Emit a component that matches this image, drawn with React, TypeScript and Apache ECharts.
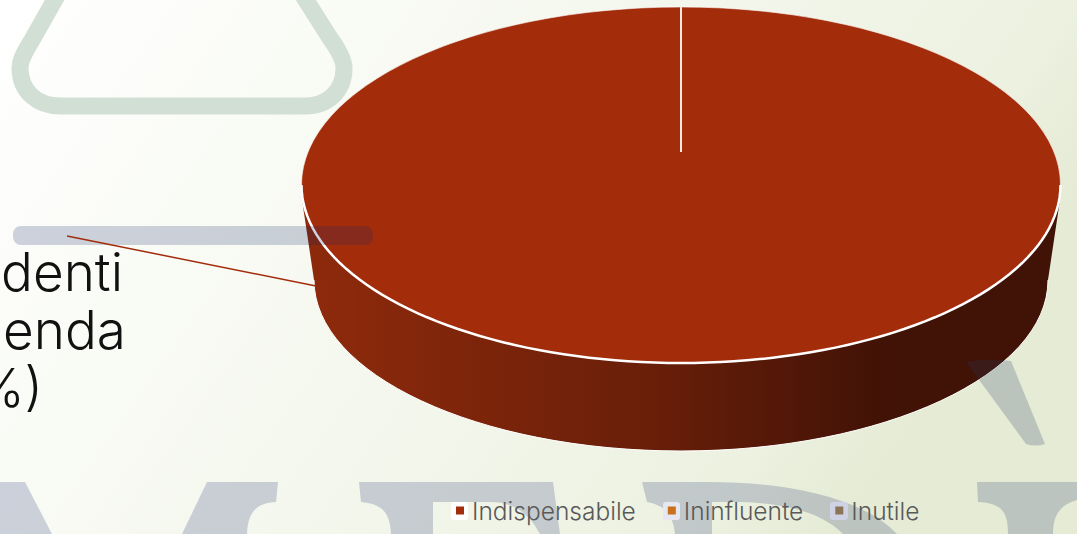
import React, { useEffect, useRef } from "react";
import * as echarts from "echarts";

const categories = ["Indispensabile", "Ininfluente", "Inutile"];
const shares = [100, 0, 0];
const colors = ["#A32C0B", "#C8701A", "#8B7355"];
const clippedTitle = ["udenti", "enda", "%)"];

const trianglePath = "M 58 -6 L 32 40 C 22 56 20 62 20 68 C 20 92 38 106 60 106 L 305 106 C 327 106 344 92 344 68 C 344 62 340 52 330 38 L 302 -6";
const lettersPath =
  "M 0 482 L 25 482 L 52 534 L 0 534 Z " +
  "M 207 482 L 278 482 L 276 502 C 258 503 248 510 247 534 L 182 534 Z " +
  "M 359 482 L 553 482 L 560 534 L 540 534 C 530 515 515 502 490 502 L 433 502 L 433 534 L 391 534 C 390 512 382 504 361 502 Z " +
  "M 642 482 L 710 482 C 780 482 860 495 897 534 L 843 534 C 825 515 790 503 740 502 L 712 502 L 712 534 L 675 534 C 673 515 665 505 647 502 Z " +
  "M 977 482 L 1077 482 L 1077 500 C 1060 505 1053 515 1053 534 L 1008 534 C 1008 512 1002 503 978 502 Z";
const legPath = "M 966 362 Q 985 358 1011 361 L 1045 444 Q 1035 447 1026 444 Z";

echarts.graphic.registerShape("triangleMark", echarts.graphic.extendPath(trianglePath, {}) as any);
echarts.graphic.registerShape("letters", echarts.graphic.extendPath(lettersPath, {}) as any);
echarts.graphic.registerShape("legMark", echarts.graphic.extendPath(legPath, {}) as any);

const cx = 681, top = 185, rx = 379.5, ry = 178;
const bottomCy = 280, bottomRx = 367, bottomRy = 171;
const hubY = 152;

const sideStops = [
  { offset: 0, color: "#8E2A0C" },
  { offset: 0.45, color: "#6A1F09" },
  { offset: 0.78, color: "#411206" },
  { offset: 1, color: "#411206" },
];

const frontRim = () => {
  const pts: number[][] = [];
  for (let k = 0; k <= 180; k += 2) {
    const a = (k * Math.PI) / 180;
    pts.push([cx + rx * Math.cos(a), top + ry * Math.sin(a)]);
  }
  return pts;
};

const App = () => {
  const ref = useRef<HTMLDivElement>(null);
  useEffect(() => {
    const chart = echarts.init(ref.current!, null, { renderer: "svg" });
    const total = shares.reduce((a, b) => a + b, 0);
    chart.setOption({
      animation: false,
      backgroundColor: new echarts.graphic.LinearGradient(0, 0, 1, 0.35, [
        { offset: 0, color: "#FFFFFF" },
        { offset: 0.3, color: "#F9FBF5" },
        { offset: 0.6, color: "#F3F6EB" },
        { offset: 0.89, color: "#ECF1E0" },
        { offset: 1, color: "#E5EBD5" },
      ]),
      legend: {
        data: categories,
        left: 456,
        top: 498,
        padding: 0,
        itemWidth: 8,
        itemHeight: 8,
        itemGap: 32,
        icon: "rect",
        selectedMode: false,
        textStyle: { fontFamily: "Inter", fontWeight: 300, fontSize: 24.5, color: "#595959", padding: [0, 0, 0, 3] },
      },
      xAxis: { show: false, min: 0, max: 1077 },
      yAxis: { show: false, min: 0, max: 534, inverse: true },
      grid: { left: 0, right: 0, top: 0, bottom: 0 },
      series: [
        ...categories.map((name, i) => ({ type: "line", name, data: [], itemStyle: { color: colors[i] }, lineStyle: { width: 0 }, showSymbol: false })),
        {
          type: "custom",
          silent: true,
          coordinateSystem: "none",
          z: 5,
          data: shares.map((v, i) => [v, i]),
          renderItem: (params: any, api: any) => {
            const i = params.dataIndex;
            const before = shares.slice(0, i).reduce((a, b) => a + b, 0);
            const start = -Math.PI / 2 + (before / total) * 2 * Math.PI;
            const end = start + (api.value(0) / total) * 2 * Math.PI;
            if (api.value(0) === 0) return { type: "group", children: [] };
            const full = end - start >= 2 * Math.PI - 1e-6;
            return {
              type: "group",
              children: [
                {
                  type: "ellipse",
                  shape: { cx, cy: bottomCy, rx: bottomRx, ry: bottomRy },
                  style: { fill: new echarts.graphic.LinearGradient(0, 0, 1, 0, sideStops), stroke: "#FFFFFF", lineWidth: 1 },
                },
                {
                  type: "polygon",
                  shape: { points: [[cx - rx + 1, top + 18], [cx + rx - 1, top + 18], [cx + bottomRx, bottomCy], [cx - bottomRx, bottomCy]] },
                  style: { fill: new echarts.graphic.LinearGradient(0, 0, 1, 0, sideStops) },
                },
                full
                  ? {
                      type: "ellipse",
                      shape: { cx, cy: top, rx, ry },
                      style: { fill: colors[i], stroke: "rgba(255,255,255,0.6)", lineWidth: 1 },
                    }
                  : {
                      type: "group",
                      x: cx, y: top, scaleY: ry / rx,
                      children: [{ type: "sector", shape: { r: rx, startAngle: start, endAngle: end }, style: { fill: colors[i], stroke: "rgba(255,255,255,0.6)", lineWidth: 1 } }],
                    },
                {
                  type: "polyline",
                  shape: { points: frontRim() },
                  style: { fill: "none", stroke: "#FFFFFF", lineWidth: 2.5 },
                },
                {
                  type: "line",
                  shape: { x1: cx, y1: hubY, x2: cx + 0.01, y2: top - ry },
                  style: { stroke: "#F4E9E2", lineWidth: 2 },
                },
              ],
            };
          },
        },
      ],
      graphic: [
        { type: "triangleMark", z: 1, silent: true, style: { fill: "none", stroke: "#D2DFD5", lineWidth: 17 } },
        { type: "letters", z: 1, silent: true, style: { fill: "rgba(25,40,110,0.2)" } },
        { type: "rect", z: 2, silent: true, shape: { x: 451, y: 502, width: 17, height: 18, r: 3 }, style: { fill: "#FFFFFF" } },
        { type: "rect", z: 2, silent: true, shape: { x: 663, y: 502, width: 17, height: 18, r: 3 }, style: { fill: "#E6E7F0" } },
        { type: "rect", z: 2, silent: true, shape: { x: 830, y: 502, width: 18, height: 18, r: 3 }, style: { fill: "#CFD2E4" } },
        { type: "legMark", z: 100, silent: true, style: { fill: "rgba(40,60,100,0.22)" } },
        { type: "rect", z: 100, silent: true, shape: { x: 13, y: 226, width: 360, height: 19, r: 8 }, style: { fill: "rgba(15,35,100,0.2)" } },
        { type: "line", z: 101, silent: true, shape: { x1: 67, y1: 236, x2: 316, y2: 286 }, style: { stroke: "#A32C0B", lineWidth: 1.5 } },
        ...clippedTitle.map((t, i) => ({
          type: "text", z: 102, silent: true,
          style: { text: t, x: [123, 126, 43][i], y: [272, 330, 388][i], align: "right", verticalAlign: "middle", font: '300 53px "Inter"', fill: "#111111" },
        })),
      ],
    });
    return () => chart.dispose();
  }, []);
  return <div ref={ref} style={{ width: 1077, height: 534, position: "fixed", left: 0, top: 0 }} />;
};

export default App;
